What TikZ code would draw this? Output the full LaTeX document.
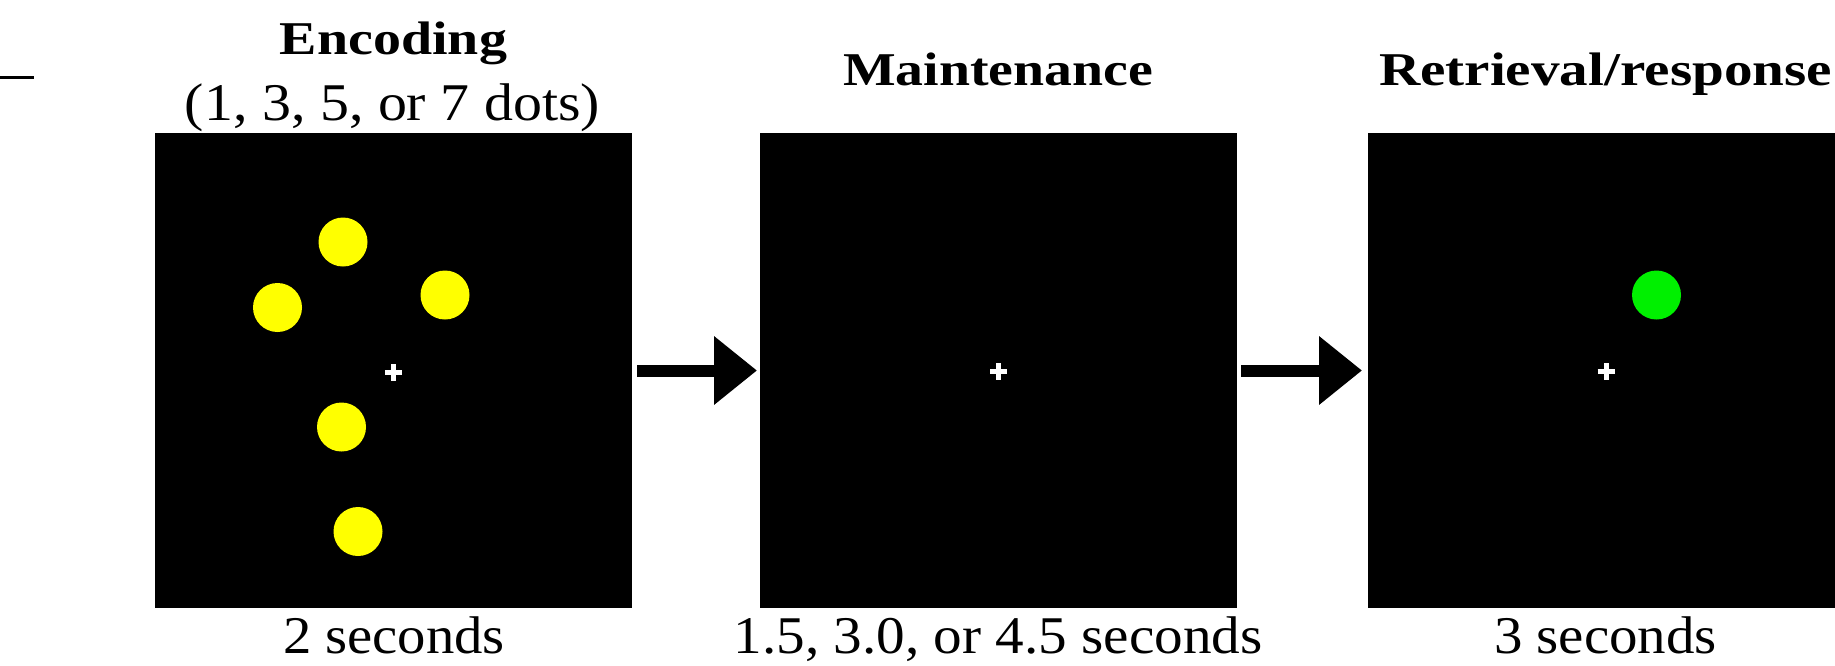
\documentclass[tikz,border=0pt]{standalone}
\usepackage{fontspec}
\setmainfont{Liberation Serif}
\usetikzlibrary{arrows.meta}
\newcommand{\boldtxt}[2]{\resizebox{#1}{\height}{\fontsize{47}{56}\selectfont\bfseries #2}}
\newcommand{\regtxt}[2]{\resizebox{#1}{\height}{\fontsize{53}{62}\selectfont #2}}
\definecolor{dotyellow}{RGB}{255,255,0}
\definecolor{dotgreen}{RGB}{0,240,0}
\tikzset{
  screen/.style={fill=black, draw=none, minimum width=477pt, minimum height=475pt, inner sep=0pt, outer sep=0pt},
  label/.style={anchor=base, inner sep=0pt, outer sep=0pt},
  ydot/.style={fill=dotyellow, draw=none},
  gdot/.style={fill=dotgreen, draw=none},
  fixcross/.style={draw=white, line width=5pt},
  blockarrow/.style={line width=12pt, -{Triangle[length=43pt,width=66pt]}},
}
\newcommand{\fixation}[1]{%
  \draw[fixcross] ([xshift=-8.5pt]#1) -- ([xshift=8.5pt]#1);
  \draw[fixcross] ([yshift=-8.5pt]#1) -- ([yshift=8.5pt]#1);}
\begin{document}
\begin{tikzpicture}[x=1pt,y=-1pt]
\useasboundingbox (0,0) rectangle (1835,665);
% stray rule at top left
\coordinate (ruleA) at (0,77.5);
\coordinate (ruleB) at (34,77.5);
\draw[line width=3pt] (ruleA) -- (ruleB);

% screens
\node[screen] (b1) at (393.5,370.5) {};
\node[screen] (b2) at (998.5,370.5) {};
\node[screen] (b3) at (1606.5,370.5) {};

% titles
\node[label] (t1) at (393.5,54) {\boldtxt{227pt}{Encoding}};
\node[label] (t1b) at (392.5,120) {\regtxt{415pt}{(1, 3, 5, or 7 dots)}};
\node[label] (t2) at (998,85) {\boldtxt{310pt}{Maintenance}};
\node[label] (t3) at (1605.5,85) {\boldtxt{453pt}{Retrieval/response}};

% durations
\node[label] (d1) at (394,653) {\regtxt{222pt}{2 seconds}};
\node[label] (d2) at (998,653) {\regtxt{529pt}{1.5, 3.0, or 4.5 seconds}};
\node[label] (d3) at (1605.5,653) {\regtxt{223pt}{3 seconds}};

% encoding dots
\fill[ydot] (343,242) circle (24.5);
\fill[ydot] (277.5,307.5) circle (24.5);
\fill[ydot] (445,295) circle (24.5);
\fill[ydot] (341.5,427) circle (24.5);
\fill[ydot] (358,531.5) circle (24.5);

% retrieval probe
\fill[gdot] (1656.5,295) circle (24.5);

% fixation crosses
\coordinate (f1) at (393.5,372);
\coordinate (f2) at (998.5,371);
\coordinate (f3) at (1606,371);
\fixation{f1}
\fixation{f2}
\fixation{f3}

% arrows
\draw[blockarrow] ([xshift=5pt]b1.east) -- ([xshift=-3pt]b2.west);
\draw[blockarrow] ([xshift=4pt]b2.east) -- ([xshift=-6pt]b3.west);
\end{tikzpicture}
\end{document}
